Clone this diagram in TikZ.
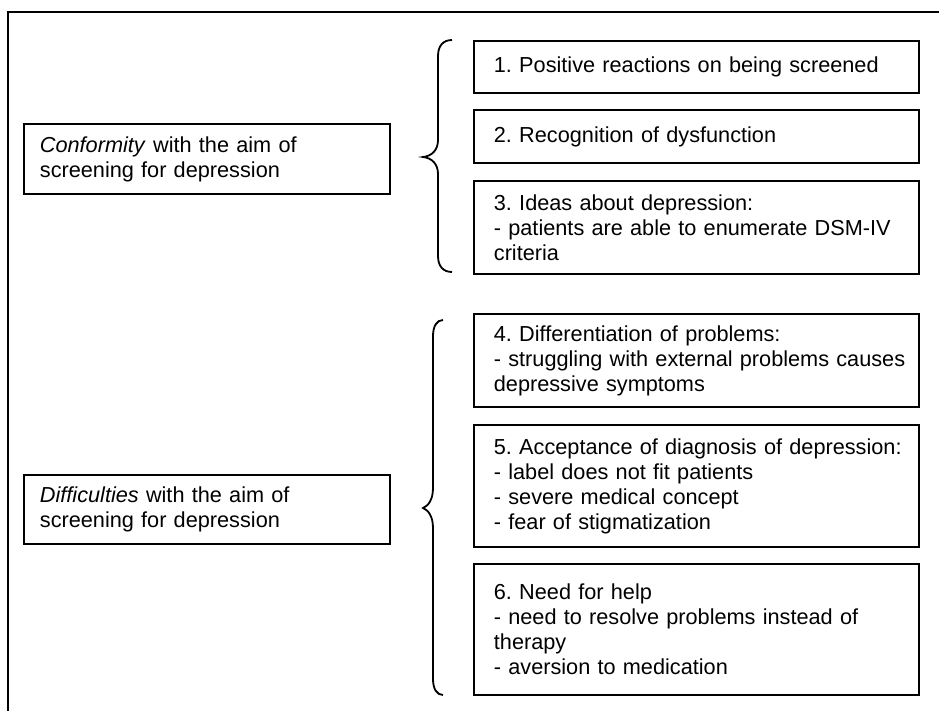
\documentclass[tikz,border=0pt]{standalone}
\usepackage{fontspec}
\setmainfont{Liberation Sans}
\begin{document}
\frenchspacing
\begin{tikzpicture}[x=1pt,y=-1pt,
  line width=1.8pt,
  every node/.style={font=\fontsize{21.7}{25}\selectfont\frenchspacing},
  rbox/.style={draw, line width=1.8pt, anchor=north west, inner ysep=0pt,
    inner xsep=0pt, text width=445pt, align=left,
    execute at begin node={\leftskip=20pt\relax}},
  lbox/.style={draw, line width=1.8pt, anchor=north west, inner ysep=0pt,
    inner xsep=0pt, text width=366pt, align=left,
    execute at begin node={\leftskip=16pt\relax}},
  bracepath/.style={draw, line width=1.8pt}]
\useasboundingbox (0,0) rectangle (939,711);
% outer frame
\draw (8,711) -- (8,12) -- (939,12);
% left boxes
\node[lbox, minimum height=70pt] (conf) at (23,123)
  {\textit{Conformity} with the aim of\\screening for depression};
\node[lbox, minimum height=69pt] (diff) at (23,474)
  {\textit{Difficulties} with the aim of\\screening for depression};
% right boxes
\node[rbox, minimum height=52pt] (b1) at (473,40)
  {1. Positive reactions on being screened};
\node[rbox, minimum height=53pt] (b2) at (473,109)
  {2. Recognition of dysfunction};
\node[rbox, minimum height=93pt] (b3) at (473,180)
  {3. Ideas about depression:\\- patients are able to enumerate DSM-IV\\criteria};
\node[rbox, minimum height=93pt] (b4) at (473,313)
  {4. Differentiation of problems:\\- struggling with external problems causes\\depressive symptoms};
\node[rbox, minimum height=122pt] (b5) at (473,424)
  {5. Acceptance of diagnosis of depression:\\- label does not fit patients\\- severe medical concept\\- fear of stigmatization};
\node[rbox, minimum height=131pt] (b6) at (473,563)
  {6. Need for help\\- need to resolve problems instead of\\therapy\\- aversion to medication};
% braces
\draw[bracepath] (452,40) .. controls (443,40) and (438,46) .. (438,56)
  -- (438,140) .. controls (438,150) and (432,156) .. (423,157)
  .. controls (432,158) and (438,164) .. (438,174)
  -- (438,256) .. controls (438,266) and (443,272) .. (452,272);
\draw[bracepath] (443,320) .. controls (437,320) and (433,326) .. (433,336)
  -- (433,488) .. controls (433,500) and (428,506) .. (423,508)
  .. controls (428,510) and (433,516) .. (433,528)
  -- (433,679) .. controls (433,689) and (437,695) .. (443,695);
\end{tikzpicture}
\end{document}
